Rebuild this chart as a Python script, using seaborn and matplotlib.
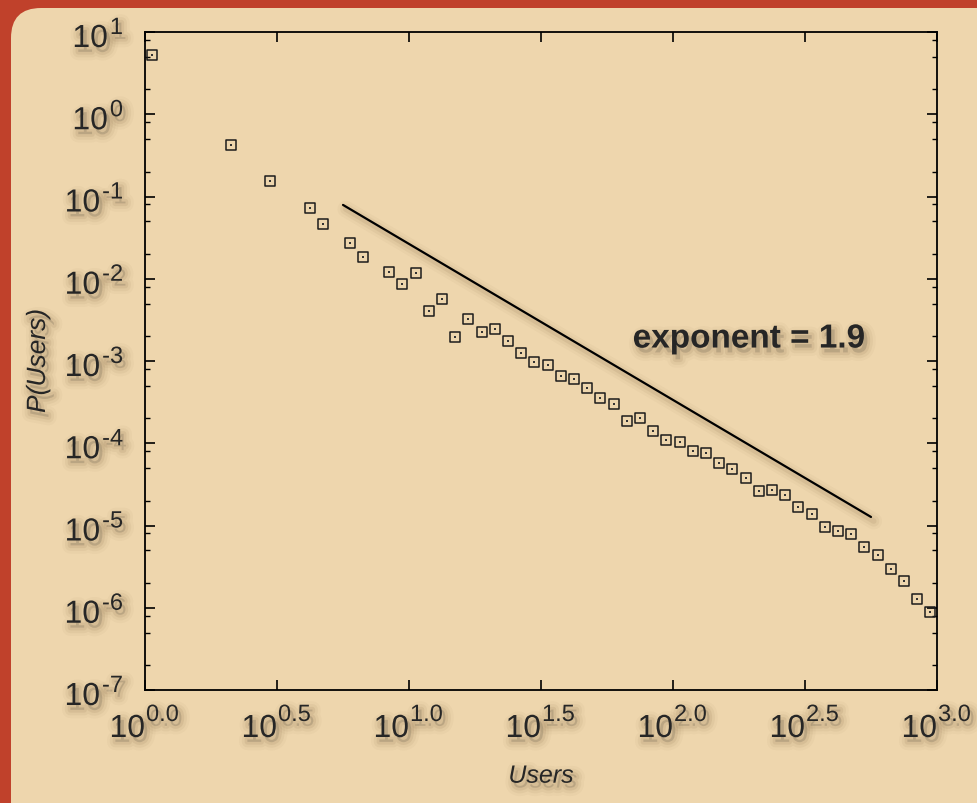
import matplotlib
matplotlib.use('Agg')

import matplotlib.patheffects as pe
import matplotlib.pyplot as plt
import numpy as np
import pandas as pd
import seaborn as sns
from matplotlib.patches import FancyBboxPatch
from matplotlib.ticker import FixedLocator, LogLocator, NullFormatter, NullLocator
from matplotlib.transforms import IdentityTransform, blended_transform_factory, offset_copy

# log10 of the bin centres (Users) and the probability
user_exp = [
    0.025, 0.325, 0.475, 0.625, 0.675, 0.775, 0.825, 0.925, 0.975, 1.025,
    1.075, 1.125, 1.175, 1.225, 1.275, 1.325, 1.375, 1.425, 1.475, 1.525,
    1.575, 1.625, 1.675, 1.725, 1.775, 1.825, 1.875, 1.925, 1.975, 2.025,
    2.075, 2.125, 2.175, 2.225, 2.275, 2.325, 2.375, 2.425, 2.475, 2.525,
    2.575, 2.625, 2.675, 2.725, 2.775, 2.825, 2.875, 2.925, 2.975,
]
prob = [
    5.25, 0.423, 0.154, 0.0725, 0.0463, 0.0272, 0.0184, 0.0121, 0.00863, 0.0117,
    0.00406, 0.00568, 0.00196, 0.00324, 0.00225, 0.00245, 0.00175, 0.00125, 9.72e-4, 8.94e-4,
    6.57e-4, 6.04e-4, 4.70e-4, 3.55e-4, 3.00e-4, 1.87e-4, 2.03e-4, 1.41e-4, 1.10e-4, 1.04e-4,
    8.05e-5, 7.61e-5, 5.75e-5, 4.86e-5, 3.78e-5, 2.62e-5, 2.70e-5, 2.35e-5, 1.68e-5, 1.38e-5,
    9.60e-6, 8.57e-6, 7.88e-6, 5.48e-6, 4.38e-6, 2.96e-6, 2.11e-6, 1.28e-6, 8.87e-7,
]

# power-law guide line (end points)
fit_users = [10 ** 0.75, 10 ** 2.75]
fit_prob = [0.079, 1.27e-5]
fit_label = 'exponent = 1.9'
label_pos = (10 ** 2.288, 10 ** -2.733)

xtick_exp = ['0.0', '0.5', '1.0', '1.5', '2.0', '2.5', '3.0']
ytick_exp = ['-7', '-6', '-5', '-4', '-3', '-2', '-1', '0', '1']

RED = '#c0412b'
TAN = '#eed6ad'
SHADOW = '#5a3c18'
BASE_SIZE = 23
EXP_SIZE = 17


def soft_shadow(dx=2.5, dy=-3.5):
    layers = [(12, 0.03), (8, 0.05), (4, 0.08)]
    effects = [pe.Stroke(offset=(dx, dy), linewidth=w, foreground=SHADOW, alpha=a) for w, a in layers]
    return effects + [pe.Normal()]


sns.set_theme(style='ticks')
plt.rcParams['font.family'] = ['Liberation Sans', 'DejaVu Sans']

fig = plt.figure(figsize=(9.78, 8.04), dpi=100, facecolor=RED)

# rounded tan panel behind the chart (display pixels)
panel = FancyBboxPatch((11, -80), 1100, 795 + 80, boxstyle='round,pad=0,rounding_size=30',
                       facecolor=TAN, edgecolor='none', zorder=-5)
panel.set_transform(IdentityTransform())
fig.add_artist(panel)

ax = fig.add_axes([145 / 978, 1 - 691 / 804, 792 / 978, 658 / 804])
ax.set_facecolor(TAN)
ax.set(xscale='log', yscale='log')

df = pd.DataFrame({'users': 10 ** np.array(user_exp), 'prob': prob})

sns.scatterplot(data=df, x='users', y='prob', marker='s', s=52, facecolor='none',
                edgecolor='#1c1c1c', linewidth=1.1, ax=ax, zorder=3)
sns.scatterplot(data=df, x='users', y='prob', marker='s', s=1.5, color='#333333',
                linewidth=0, ax=ax, zorder=4)
sns.lineplot(x=fit_users, y=fit_prob, color='black', linewidth=1.6, ax=ax, zorder=2)
ax.lines[-1].set_path_effects(soft_shadow(2, -3))

ax.text(*label_pos, fit_label, fontsize=24, fontweight='bold', ha='center', va='center',
        path_effects=soft_shadow())

ax.set_xlim(1, 1000)
ax.set_ylim(1e-7, 10)

x_ticks = [10 ** float(e) for e in xtick_exp]
y_ticks = [10 ** float(e) for e in ytick_exp]
ax.xaxis.set_major_locator(FixedLocator(x_ticks))
ax.xaxis.set_minor_locator(NullLocator())
ax.yaxis.set_major_locator(FixedLocator(y_ticks))
ax.yaxis.set_minor_locator(LogLocator(base=10, subs=[2, 5, 8], numticks=30))
ax.yaxis.set_minor_formatter(NullFormatter())

ax.tick_params(which='both', direction='in', top=True, right=True, colors='black',
               labelbottom=False, labelleft=False)
ax.tick_params(which='major', length=7, width=1.2)
ax.tick_params(which='minor', length=3.5, width=1.0)

for spine in ax.spines.values():
    spine.set_linewidth(1.3)
    spine.set_color('black')

# tick labels as "10" plus a raised exponent, gnuplot style
fig.canvas.draw()
renderer = fig.canvas.get_renderer()

xtrans = blended_transform_factory(ax.transData, ax.transAxes)
for xv, e in zip(x_ticks, xtick_exp):
    ax.text(xv, 0, '10', fontsize=BASE_SIZE, ha='right', va='baseline',
            transform=offset_copy(xtrans, fig, x=0, y=-47, units='dots'),
            path_effects=soft_shadow())
    ax.text(xv, 0, e, fontsize=EXP_SIZE, ha='left', va='baseline',
            transform=offset_copy(xtrans, fig, x=1, y=-31, units='dots'),
            path_effects=soft_shadow())

ytrans = blended_transform_factory(ax.transAxes, ax.transData)
for yv, e in zip(y_ticks, ytick_exp):
    t = ax.text(0, yv, e, fontsize=EXP_SIZE, ha='right', va='baseline',
                transform=offset_copy(ytrans, fig, x=-22, y=-2, units='dots'),
                path_effects=soft_shadow())
    w = t.get_window_extent(renderer).width
    ax.text(0, yv, '10', fontsize=BASE_SIZE, ha='right', va='baseline',
            transform=offset_copy(ytrans, fig, x=-22 - w - 2, y=-15, units='dots'),
            path_effects=soft_shadow())

ax.set_xlabel('Users', fontsize=18, fontstyle='italic', path_effects=soft_shadow())
ax.set_ylabel('P(Users)', fontsize=19, fontstyle='italic', path_effects=soft_shadow())
ax.xaxis.set_label_coords(0.5, -0.112)
ax.yaxis.set_label_coords(-0.12, 0.5)

fig.savefig('out.png', dpi=100, facecolor=fig.get_facecolor())
